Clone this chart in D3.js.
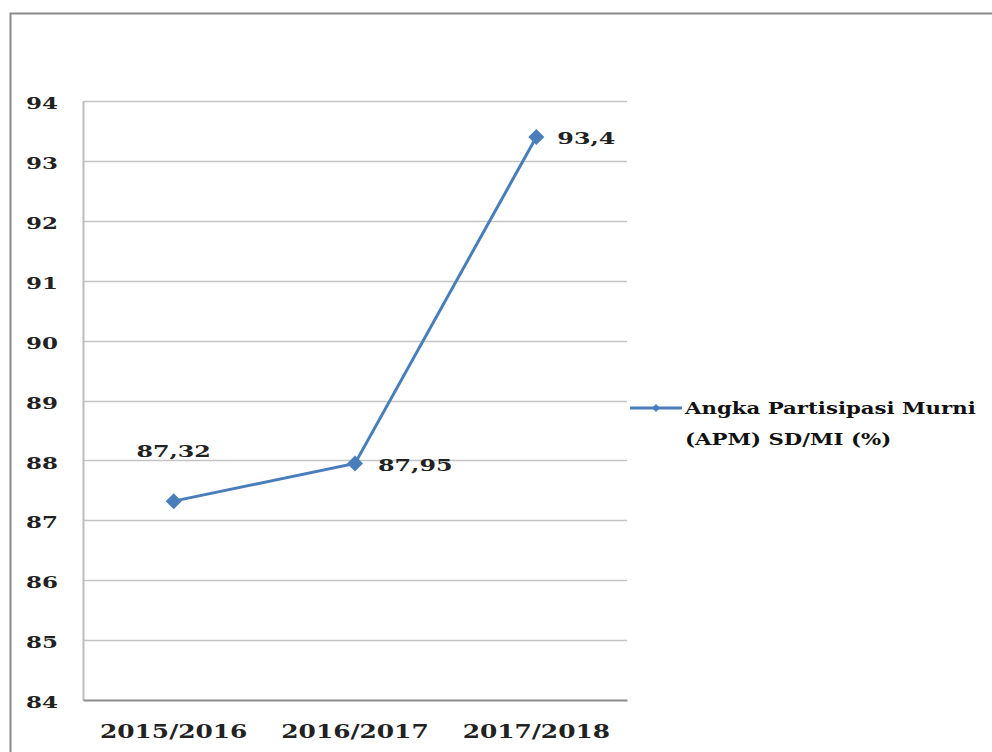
<!DOCTYPE html>
<html><head><meta charset="utf-8">
<script src="https://cdn.jsdelivr.net/npm/d3@7"></script>
<style>body{margin:0;background:#fff}svg{display:block}</style>
</head><body>
<script>
const categories = ["2015/2016", "2016/2017", "2017/2018"];
const values = [87.32, 87.95, 93.4];
const valueLabels = ["87,32", "87,95", "93,4"];
const yTicks = [84, 85, 86, 87, 88, 89, 90, 91, 92, 93, 94];
const seriesName = ["Angka Partisipasi Murni", "(APM) SD/MI  (%)"];

const W = 992, H = 752;
const svg = d3.select("body").append("svg").attr("width", W).attr("height", H);
svg.append("rect").attr("width", W).attr("height", H).attr("fill", "#fff");
// outer frame
svg.append("rect").attr("x", 10.5).attr("y", 13.5).attr("width", W).attr("height", H)
  .attr("fill", "none").attr("stroke", "#8a8a8a").attr("stroke-width", 2);

const plot = {l: 83, r: 627, t: 101, b: 700};
const x = d3.scaleBand().domain(categories).range([plot.l, plot.r]);
const y = d3.scaleLinear().domain([84, 94]).range([plot.b, plot.t]);
const FONT = "'DejaVu Serif', serif";
const blue = "#4a7ebb";

function stretch(sel, factor) {
  sel.each(function () {
    const w = this.getComputedTextLength();
    d3.select(this).attr("textLength", w * factor).attr("lengthAdjust", "spacingAndGlyphs");
  });
}
function diamondPath(r) { return `M0,${-r}L${r},0L0,${r}L${-r},0Z`; }

// gridlines
svg.append("g").selectAll("line").data(yTicks.slice(1)).join("line")
  .attr("x1", plot.l).attr("x2", plot.r)
  .attr("y1", d => Math.round(y(d)) + 0.5).attr("y2", d => Math.round(y(d)) + 0.5)
  .attr("stroke", "#c4c4c4").attr("stroke-width", 1.5);

// axes
const yAxis = svg.append("g").attr("transform", `translate(${plot.l},0)`)
  .call(d3.axisLeft(y).tickValues(yTicks).tickSize(0).tickPadding(25));
yAxis.select(".domain").attr("stroke", "#bdbdbd").attr("stroke-width", 2);
yAxis.selectAll("text").attr("font-family", FONT).attr("font-weight", "bold")
  .attr("font-size", 17).attr("fill", "#222").attr("dy", "0.45em");
stretch(yAxis.selectAll("text"), 1.35);

const xAxis = svg.append("g").attr("transform", `translate(0,${plot.b})`)
  .call(d3.axisBottom(x).tickSize(0).tickPadding(25));
xAxis.select(".domain").attr("stroke", "#8a8a8a").attr("stroke-width", 2);
xAxis.selectAll("text").attr("font-family", FONT).attr("font-weight", "bold")
  .attr("font-size", 18).attr("fill", "#222");
stretch(xAxis.selectAll("text"), 1.38);

// line
const cx = d => x(d) + x.bandwidth() / 2;
const pts = categories.map((c, i) => [cx(c), y(values[i])]);
svg.append("path").datum(pts).attr("d", d3.line())
  .attr("fill", "none").attr("stroke", blue).attr("stroke-width", 3);
svg.append("g").selectAll("path").data(pts).join("path")
  .attr("transform", d => `translate(${d[0]},${d[1]})`)
  .attr("d", diamondPath(8)).attr("fill", blue);

// data labels
const labelOffsets = [[0, -50, "middle"], [23, 2, "start"], [21, 1, "start"]];
const dl = svg.append("g").selectAll("text").data(pts).join("text")
  .attr("x", (d, i) => d[0] + labelOffsets[i][0])
  .attr("y", (d, i) => d[1] + labelOffsets[i][1])
  .attr("dy", "0.35em")
  .attr("text-anchor", (d, i) => labelOffsets[i][2])
  .attr("font-family", FONT).attr("font-weight", "bold").attr("font-size", 17).attr("fill", "#222")
  .text((d, i) => valueLabels[i]);
stretch(dl, 1.4);

// legend
const lg = svg.append("g").attr("transform", "translate(630,408)");
lg.append("line").attr("x1", 0).attr("x2", 52).attr("y1", 0).attr("y2", 0)
  .attr("stroke", blue).attr("stroke-width", 3);
lg.append("path").attr("transform", "translate(26,0)")
  .attr("d", diamondPath(4)).attr("fill", blue);
const lt = lg.selectAll("text").data(seriesName).join("text")
  .attr("x", 55).attr("y", (d, i) => i * 31).attr("dy", "0.35em")
  .attr("font-family", FONT).attr("font-weight", "bold").attr("font-size", 17).attr("fill", "#111")
  .text(d => d);
stretch(lt, 1.25);
</script>
</body></html>
